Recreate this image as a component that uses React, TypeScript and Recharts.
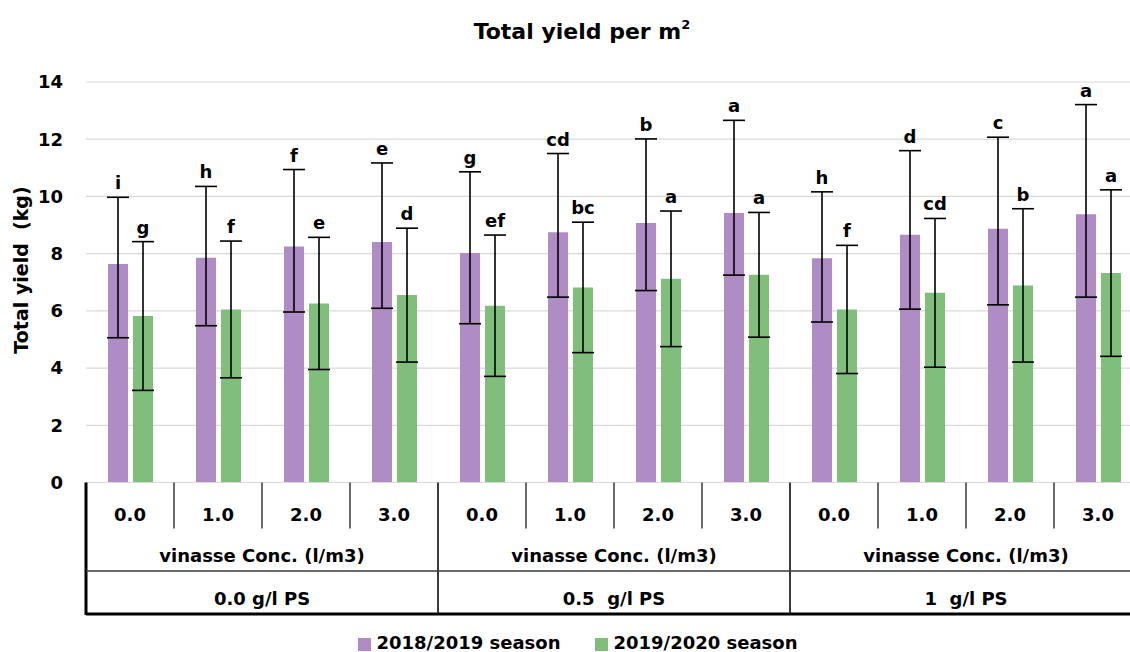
import React from 'react';
import {
  BarChart,
  Bar,
  XAxis,
  YAxis,
  CartesianGrid,
  ErrorBar,
  LabelList,
  Legend,
} from 'recharts';

// ---- categories ----
const concentrations = ['0.0', '1.0', '2.0', '3.0', '0.0', '1.0', '2.0', '3.0', '0.0', '1.0', '2.0', '3.0'];
const psLevels = ['0.0 g/l PS', '0.5  g/l PS', '1  g/l PS'];
const vinasseCaption = 'vinasse Conc. (l/m3)';

// ---- series ----
const season1Name = '2018/2019 season';
const season2Name = '2019/2020 season';

const season1Yield = [7.64, 7.86, 8.25, 8.41, 8.02, 8.75, 9.07, 9.42, 7.84, 8.66, 8.87, 9.38];
const season1ErrLow = [2.58, 2.38, 2.29, 2.32, 2.47, 2.27, 2.36, 2.17, 2.23, 2.6, 2.66, 2.9];
const season1ErrHigh = [2.33, 2.49, 2.69, 2.76, 2.84, 2.75, 2.94, 3.24, 2.32, 2.94, 3.2, 3.83];
const season1Letters = ['i', 'h', 'f', 'e', 'g', 'cd', 'b', 'a', 'h', 'd', 'c', 'a'];

const season2Yield = [5.82, 6.05, 6.26, 6.55, 6.18, 6.82, 7.12, 7.26, 6.05, 6.63, 6.89, 7.32];
const season2Err = [2.6, 2.39, 2.31, 2.34, 2.47, 2.28, 2.37, 2.18, 2.24, 2.6, 2.68, 2.91];
const season2Letters = ['g', 'f', 'e', 'd', 'ef', 'bc', 'a', 'a', 'f', 'cd', 'b', 'a'];

const yTicks = [0, 2, 4, 6, 8, 10, 12, 14];

// ---- styling / layout ----
const FONT = '"DejaVu Sans", "Liberation Sans", Arial, sans-serif';
const PURPLE = '#af8cc4';
const GREEN = '#7fbf7b';
const CHART_W = 1160;
const CHART_H = 652;
const Y_AXIS_W = 86;
const MARGIN = { top: 82, right: 18, bottom: 34.5, left: 0 };
const X_AXIS_H = 135;
const PLOT_W = CHART_W - MARGIN.left - MARGIN.right - Y_AXIS_W;
const CAT_W = PLOT_W / concentrations.length;
const PER_GROUP = concentrations.length / psLevels.length;

const data = concentrations.map((conc, i) => ({
  conc,
  ps: psLevels[Math.floor(i / PER_GROUP)],
  s1: season1Yield[i],
  s1Err: [season1ErrLow[i], season1ErrHigh[i]],
  s1Sig: season1Letters[i],
  s2: season2Yield[i],
  s2Err: [season2Err[i], season2Err[i]],
  s2Sig: season2Letters[i],
}));

const boldText = {
  fontFamily: FONT,
  fontWeight: 700,
  fontSize: 18,
  fill: '#000',
};

// significance letter sitting just above the upper whisker of each bar
const sigLabel = (valueKey: string, errKey: string) => (props: any) => {
  const vb = props.viewBox && props.viewBox.width != null ? props.viewBox : props;
  const { x, y, width, height } = vb;
  const row: any = data[props.index];
  if (!row || !height) return null;
  const pxPerUnit = height / row[valueKey];
  const whiskerTop = y - row[errKey][1] * pxPerUnit;
  return (
    <text x={x + width / 2} y={whiskerTop - 8} textAnchor="middle" style={boldText as any}>
      {props.value}
    </text>
  );
};

// multi-level category table under the plot
const TableTick = (props: any) => {
  const { x, y, payload, index } = props;
  const half = CAT_W / 2;
  const pos = index % PER_GROUP;
  const groupIdx = Math.floor(index / PER_GROUP);
  const lineColor = '#3a3a3a';
  const rowSep = y + 88.5;
  const bottom = y + 131.5;
  return (
    <g>
      <text x={x} y={y + 38} textAnchor="middle" style={boldText as any}>
        {payload.value}
      </text>
      {pos !== PER_GROUP - 1 && (
        <line x1={x + half} x2={x + half} y1={y} y2={y + 46} stroke={lineColor} strokeWidth={1.5} />
      )}
      {pos === PER_GROUP - 1 && (
        <line x1={x + half} x2={x + half} y1={y} y2={bottom} stroke={lineColor} strokeWidth={2} />
      )}
      {index === 0 && (
        <line x1={x - half} x2={x - half} y1={y} y2={bottom + 1} stroke="#000" strokeWidth={3} />
      )}
      {pos === 0 && (
        <>
          <line x1={x - half} x2={x - half + CAT_W * PER_GROUP} y1={rowSep} y2={rowSep} stroke={lineColor} strokeWidth={1.5} />
          <line x1={x - half} x2={x - half + CAT_W * PER_GROUP} y1={bottom} y2={bottom} stroke="#000" strokeWidth={3} />
          <text
            x={x - half + (CAT_W * PER_GROUP) / 2}
            y={y + 79}
            textAnchor="middle"
            style={{ ...(boldText as any), whiteSpace: 'pre' }}
          >
            {vinasseCaption}
          </text>
          <text
            x={x - half + (CAT_W * PER_GROUP) / 2}
            y={y + 122}
            textAnchor="middle"
            style={{ ...(boldText as any), whiteSpace: 'pre' }}
          >
            {psLevels[groupIdx]}
          </text>
        </>
      )}
    </g>
  );
};

const YTitle = () => (
  <text
    transform="translate(28,270) rotate(-90)"
    textAnchor="middle"
    style={{ ...(boldText as any), fontSize: 19, whiteSpace: 'pre' }}
  >
    {'Total yield  (kg)'}
  </text>
);

const legendItems = [
  { name: season1Name, color: PURPLE, x: 358 },
  { name: season2Name, color: GREEN, x: 595 },
];

const LegendContent = () => (
  <svg width={1130} height={20} style={{ display: 'block' }}>
    {legendItems.map((it) => (
      <g key={it.name}>
        <rect x={it.x} y={6} width={13} height={13} fill={it.color} />
        <text x={it.x + 18.5} y={17} style={boldText as any}>
          {it.name}
        </text>
      </g>
    ))}
  </svg>
);

export default function App() {
  return (
    <div
      style={{
        position: 'absolute',
        left: 0,
        top: 0,
        width: 1130,
        height: 652,
        overflow: 'hidden',
        background: '#fff',
      }}
    >
      <BarChart
        width={CHART_W}
        height={CHART_H}
        data={data}
        margin={MARGIN}
        barSize={20}
        barGap={5}
      >
        <CartesianGrid vertical={false} stroke="#d9d9d9" strokeWidth={1.2} />
        <XAxis
          dataKey="conc"
          interval={0}
          height={X_AXIS_H}
          tickLine={false}
          tickSize={0}
          tickMargin={0}
          axisLine={{ stroke: '#d9d9d9', strokeWidth: 1.2 }}
          tick={<TableTick />}
        />
        <YAxis
          width={Y_AXIS_W}
          domain={[0, 14]}
          ticks={yTicks}
          interval={0}
          axisLine={false}
          tickLine={false}
          tickSize={0}
          tickMargin={23}
          tick={{ ...boldText, fill: '#000' }}
          label={{ content: () => <YTitle /> }}
        />
        <Bar dataKey="s1" name={season1Name} fill={PURPLE} isAnimationActive={false}>
          <ErrorBar dataKey="s1Err" direction="y" width={11} stroke="#000" strokeWidth={1.6} />
          <LabelList dataKey="s1Sig" content={sigLabel('s1', 's1Err')} />
        </Bar>
        <Bar dataKey="s2" name={season2Name} fill={GREEN} isAnimationActive={false}>
          <ErrorBar dataKey="s2Err" direction="y" width={11} stroke="#000" strokeWidth={1.6} />
          <LabelList dataKey="s2Sig" content={sigLabel('s2', 's2Err')} />
        </Bar>
        <Legend
          layout="horizontal"
          verticalAlign="middle"
          align="center"
          wrapperStyle={{ position: 'absolute', left: 0, top: 632, width: 1130, height: 20 }}
          content={() => <LegendContent />}
        />
      </BarChart>
      <svg
        width={1130}
        height={60}
        style={{ position: 'absolute', left: 0, top: 0, pointerEvents: 'none' }}
      >
        <text x={582} y={39} textAnchor="middle" style={{ ...(boldText as any), fontSize: 22 }}>
          Total yield per m
          <tspan fontSize={13} dy={-10}>
            2
          </tspan>
        </text>
      </svg>
    </div>
  );
}
